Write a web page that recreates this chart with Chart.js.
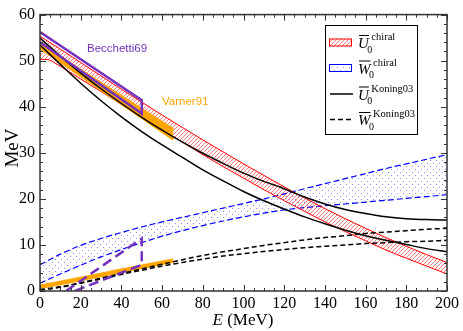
<!DOCTYPE html>
<html>
<head>
<meta charset="utf-8">
<script src="https://cdn.jsdelivr.net/npm/chart.js@4"></script>
<style>
  html, body { margin: 0; padding: 0; background: #fff; }
</style>
</head>
<body>
<canvas id="myChart" width="463" height="331"></canvas>
<script>
// energy grid (MeV)
const energy = [0,10,20,30,40,50,60,70,80,90,100,110,120,130,140,150,160,170,180,190,200];

// U0 chiral band
const uChiralUp = [55.3,52.5,49.6,46.7,43.8,41.0,38.2,35.5,32.8,30.2,27.6,25.1,22.6,20.2,17.9,15.7,13.6,11.6,9.7,7.9,6.2];
const uChiralLoE = [0,4,8,12,20,30,40,50,60,70,80,90,100,110,120,130,140,150,160,170,180,190,200];
const uChiralLo = [50.3,50.2,49.3,48.2,46.0,43.3,40.5,37.8,35.0,32.3,29.6,27.0,24.5,22.0,19.6,17.3,15.0,12.9,10.9,8.9,7.1,5.4,3.7];

// W0 chiral band
const wChiralUp = [5.7,8.0,9.9,11.4,12.7,13.9,15.0,16.0,17.0,18.0,19.0,20.0,21.1,22.2,23.3,24.4,25.5,26.6,27.6,28.6,29.6];
const wChiralLo = [1.7,3.7,5.6,7.4,9.0,10.5,11.9,13.1,14.2,15.2,16.1,16.9,17.6,18.1,18.5,18.9,19.3,19.7,20.1,20.5,20.9];

// Koning03
const uKoningA = [54.9,51.0,47.3,43.9,40.7,37.7,34.9,32.3,29.9,27.7,25.6,23.8,22.2,20.4,18.9,17.7,16.8,16.1,15.7,15.5,15.4];
const uKoningB = [53.4,49.2,45.1,41.3,37.8,34.6,31.7,29.0,26.3,23.9,21.6,19.6,17.8,16.1,14.6,13.2,12.0,11.0,10.1,9.2,8.5];
const wKoningA = [0.3,0.9,1.8,2.8,3.8,4.8,5.8,6.8,7.7,8.5,9.2,9.9,10.5,11.1,11.6,12.0,12.5,12.8,13.1,13.4,13.6];
const wKoningB = [0.2,0.8,1.7,2.6,3.6,4.5,5.4,6.2,6.9,7.6,8.1,8.6,9.0,9.4,9.7,10.0,10.3,10.5,10.7,10.8,11.0];

// Varner91
const varnerE = [0,65.5];
const varnerUUp = [53.5,35.0];
const varnerULo = [52.9,33.0];
const varnerWE = [0,20,40,65.5];
const varnerW = [0.9,2.6,4.4,6.6];

// Becchetti69
const becchettiUE = [0,50,50,0];
const becchettiU = [56.2,41.4,38.5,54.0];
const becchettiWE = [12.8,50,50,17];
const becchettiW = [0,11.4,5.7,0];

const xTicksMajor = 20, xTicksMinor = 5;
const yTicksMajor = 10, yTicksMinor = 2;

const purple = '#7432bd';
const orange = '#ffa500';

Chart.defaults.font.family = 'Liberation Serif, serif';

function pts(xs, ys) { return xs.map((x, i) => ({ x: x, y: ys[i] })); }

function hatch() {
  const c = document.createElement('canvas');
  c.width = 4; c.height = 4;
  const g = c.getContext('2d');
  g.strokeStyle = 'rgba(255,30,30,0.7)';
  g.lineWidth = 0.85;
  g.beginPath();
  g.moveTo(0, 4); g.lineTo(4, 0);
  g.moveTo(-1, 1); g.lineTo(1, -1);
  g.moveTo(3, 5); g.lineTo(5, 3);
  g.stroke();
  return g.createPattern(c, 'repeat');
}
function dots() {
  const c = document.createElement('canvas');
  c.width = 6; c.height = 6;
  const g = c.getContext('2d');
  g.fillStyle = 'rgba(0,0,255,0.45)';
  g.fillRect(1, 1, 1, 1);
  g.fillRect(4, 4, 1, 1);
  return g.createPattern(c, 'repeat');
}
const redHatch = hatch();
const blueDots = dots();

const line = { pointRadius: 0, cubicInterpolationMode: 'monotone', fill: false };

const frame = {
  id: 'frame',
  afterDatasetsDraw(chart) {
    const ctx = chart.ctx;
    const a = chart.chartArea;
    const xs = chart.scales.x, ys = chart.scales.y;
    ctx.save();
    ctx.strokeStyle = '#333';
    ctx.lineWidth = 1.5;
    ctx.strokeRect(a.left, a.top, a.right - a.left, a.bottom - a.top);
    ctx.lineWidth = 1;
    ctx.beginPath();
    for (let v = 0; v <= 200; v += xTicksMinor) {
      const p = Math.round(xs.getPixelForValue(v)) + 0.5;
      const l = v % xTicksMajor === 0 ? 6 : 3;
      ctx.moveTo(p, a.bottom); ctx.lineTo(p, a.bottom - l);
      ctx.moveTo(p, a.top); ctx.lineTo(p, a.top + l);
    }
    for (let v = 0; v <= 60; v += yTicksMinor) {
      const p = Math.round(ys.getPixelForValue(v)) + 0.5;
      const l = v % yTicksMajor === 0 ? 6 : 3;
      ctx.moveTo(a.left, p); ctx.lineTo(a.left + l, p);
      ctx.moveTo(a.right, p); ctx.lineTo(a.right - l, p);
    }
    ctx.stroke();

    // axis titles
    ctx.fillStyle = '#000';
    ctx.font = '19px "Liberation Serif"';
    ctx.textAlign = 'center';
    ctx.textBaseline = 'middle';
    ctx.save();
    ctx.translate(13, 148);
    ctx.rotate(-Math.PI / 2);
    ctx.fillText('MeV', 0, 0);
    ctx.restore();
    ctx.textBaseline = 'alphabetic';
    ctx.textAlign = 'left';
    ctx.font = 'italic 17px "Liberation Serif"';
    const wE = ctx.measureText('E').width;
    ctx.font = '17px "Liberation Serif"';
    const wR = ctx.measureText(' (MeV)').width;
    const x0 = 243 - (wE + wR) / 2;
    ctx.font = 'italic 17px "Liberation Serif"';
    ctx.fillText('E', x0, 325);
    ctx.font = '17px "Liberation Serif"';
    ctx.fillText(' (MeV)', x0 + wE, 325);

    // data labels
    ctx.font = '11.5px "Liberation Sans"';
    ctx.fillStyle = purple;
    ctx.fillText('Becchetti69', 87, 51.5);
    ctx.fillStyle = orange;
    ctx.fillText('Varner91', 162, 104.5);

    // legend
    ctx.fillStyle = '#fff';
    ctx.fillRect(325.5, 25.5, 92, 109);
    ctx.strokeStyle = '#000';
    ctx.lineWidth = 1;
    ctx.strokeRect(325.5, 25.5, 92, 109);
    const rows = [
      { b: 48, L: 'U', sup: 'chiral', kind: 'red' },
      { b: 73.5, L: 'W', sup: 'chiral', kind: 'blue' },
      { b: 99.5, L: 'U', sup: 'Koning03', kind: 'solid' },
      { b: 125, L: 'W', sup: 'Koning03', kind: 'dash' }
    ];
    rows.forEach(r => {
      const cy = r.b - 5.5;
      if (r.kind === 'red' || r.kind === 'blue') {
        ctx.fillStyle = r.kind === 'red' ? redHatch : blueDots;
        ctx.fillRect(329, cy - 4, 23, 8);
        ctx.strokeStyle = r.kind === 'red' ? '#f00' : '#00f';
        ctx.strokeRect(329.5, cy - 3.5, 22, 7);
      } else {
        ctx.strokeStyle = '#000';
        ctx.lineWidth = 1.5;
        ctx.setLineDash(r.kind === 'dash' ? [5, 3] : []);
        ctx.beginPath();
        ctx.moveTo(330, cy); ctx.lineTo(353, cy);
        ctx.stroke();
        ctx.setLineDash([]);
        ctx.lineWidth = 1;
      }
      ctx.fillStyle = '#000';
      ctx.font = 'italic 15px "Liberation Serif"';
      const lx = 358;
      const lw = ctx.measureText(r.L).width;
      ctx.fillText(r.L, lx, r.b);
      ctx.strokeStyle = '#000';
      ctx.beginPath();
      ctx.moveTo(lx + 1, r.b - 12.5); ctx.lineTo(lx + lw, r.b - 12.5);
      ctx.stroke();
      ctx.font = '10px "Liberation Serif"';
      ctx.fillText('0', lx + lw - 1.5, r.b + 4.5);
      ctx.font = '10.5px "Liberation Serif"';
      ctx.fillText(r.sup, lx + lw + 2.5, r.b - 8);
    });
    ctx.restore();
  }
};

const chart = new Chart(
  document.getElementById('myChart'),
  {
    type: 'line',
    data: {
      datasets: [
        { ...line, data: pts(becchettiUE, becchettiU), borderColor: purple, borderWidth: 2.5, cubicInterpolationMode: 'default', order: 0 },
        { ...line, data: pts(becchettiWE, becchettiW), borderColor: purple, borderWidth: 2.5, borderDash: [10, 5], cubicInterpolationMode: 'default', order: 0 },
        { ...line, data: pts(energy, uKoningA), borderColor: '#000', borderWidth: 1.5, order: 1 },
        { ...line, data: pts(energy, uKoningB), borderColor: '#000', borderWidth: 1.5, order: 1 },
        { ...line, data: pts(energy, wKoningA), borderColor: '#000', borderWidth: 1.5, borderDash: [5, 3], order: 1 },
        { ...line, data: pts(energy, wKoningB), borderColor: '#000', borderWidth: 1.5, borderDash: [5, 3], order: 1 },
        { ...line, data: pts(varnerE, varnerUUp), borderColor: orange, borderWidth: 3, fill: '+1', backgroundColor: orange, order: 2 },
        { ...line, data: pts(varnerE, varnerULo), borderColor: orange, borderWidth: 3, order: 2 },
        { ...line, data: pts(varnerWE, varnerW), borderColor: orange, borderWidth: 4.5, order: 2 },
        { ...line, data: pts(energy, uChiralUp), borderColor: '#f00', borderWidth: 1, fill: '+1', backgroundColor: redHatch, order: 3 },
        { ...line, data: pts(uChiralLoE, uChiralLo), borderColor: '#f00', borderWidth: 1, order: 3 },
        { ...line, data: pts(energy, wChiralUp), borderColor: '#00f', borderWidth: 1.2, borderDash: [6, 3], fill: '+1', backgroundColor: blueDots, order: 3 },
        { ...line, data: pts(energy, wChiralLo), borderColor: '#00f', borderWidth: 1.2, borderDash: [6, 3], order: 3 }
      ]
    },
    options: {
      responsive: false,
      animation: false,
      devicePixelRatio: 1,
      layout: { padding: { left: 0, right: 16, top: 9, bottom: 0 } },
      plugins: { legend: { display: false }, tooltip: { enabled: false } },
      scales: {
        x: {
          type: 'linear', min: 0, max: 200,
          afterFit(s) { s.height = 40; },
          grid: { display: false, drawTicks: false },
          border: { display: false },
          ticks: { stepSize: xTicksMajor, color: '#000', padding: 3, maxRotation: 0, autoSkip: false,
                   font: { family: 'Liberation Serif, serif', size: 16 } }
        },
        y: {
          type: 'linear', min: 0, max: 60,
          afterFit(s) { s.width = 40; },
          grid: { display: false, drawTicks: false },
          border: { display: false },
          ticks: { stepSize: yTicksMajor, color: '#000', padding: 5,
                   font: { family: 'Liberation Serif, serif', size: 16 } }
        }
      }
    },
    plugins: [frame]
  });
</script>
</body>
</html>
